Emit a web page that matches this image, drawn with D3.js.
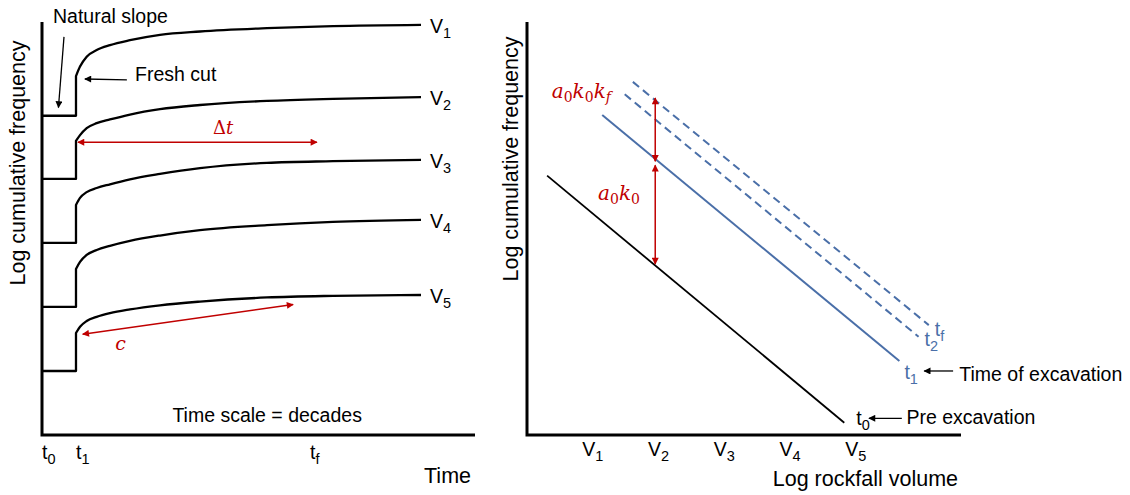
<!DOCTYPE html>
<html><head><meta charset="utf-8">
<script src="https://cdn.jsdelivr.net/npm/d3@7"></script>
<style>
body{margin:0;background:#fff}
text{font-family:"Liberation Sans",Arial,sans-serif;fill:#000}
</style>
</head><body>
<svg id="c" width="1130" height="495"></svg>
<script>
// ---------- DATA (left panel: time series per volume class) ----------
const volumeSubs = ["1","2","3","4","5"];
const cutTime = 7.85;              // t1 (time of fresh cut)
const timeTicks = [ {sub:"0", t:0}, {sub:"1", t:7.85}, {sub:"f", t:61.9} ];
const naturalLevel = [77.3, 62.0, 46.5, 31.0, 15.5];
const curveTimes = [7.85, 8.78, 10.32, 12.63, 15.70, 20.32, 27.25, 36.49, 51.96, 67.21, 87.53];
const curveV1 = [86.9, 89.2, 91.6, 93.2, 94.4, 95.6, 96.9, 97.7, 98.5, 99.0, 99.3];
const curveV2 = [71.2, 72.6, 74.3, 75.5, 76.4, 77.6, 78.9, 79.9, 80.9, 81.4, 81.8];
const curveV3 = [55.7, 57.4, 58.8, 59.8, 60.7, 61.9, 63.2, 64.6, 65.9, 66.3, 66.6];
const curveV4 = [40.2, 41.9, 43.6, 44.8, 45.8, 47.0, 48.3, 49.6, 50.8, 51.6, 52.1];
const curveV5 = [24.7, 26.2, 27.6, 28.6, 29.5, 30.4, 31.4, 32.3, 33.3, 33.7, 33.9];
const curves = [curveV1, curveV2, curveV3, curveV4, curveV5];

// ---------- DATA (right panel: magnitude-frequency lines) ----------
const volumeTicks = [1, 2, 3, 4, 5];
const mfNames = ["0", "1", "2", "f"];
const mfX0 = [0.306, 1.144, 1.486, 1.610];
const mfY0 = [62.8, 77.5, 82.5, 85.5];
const mfX1 = [4.825, 5.663, 5.955, 6.110];
const mfY1 = [2.98, 17.9, 23.8, 26.6];

const svg = d3.select("#c");
const RED = "#c00000", BLUE = "#4a6fa8";

// markers
const defs = svg.append("defs");
function marker(id, color, w, h) {
  defs.append("marker").attr("id", id).attr("viewBox", "0 0 10 10")
    .attr("refX", 9).attr("refY", 5).attr("markerUnits", "userSpaceOnUse")
    .attr("markerWidth", w).attr("markerHeight", h).attr("orient", "auto-start-reverse")
    .append("path").attr("d", "M0,0 L10,5 L0,10 z").attr("fill", color);
}
marker("ab", "#000", 9, 7);
marker("ar", RED, 9, 7);

function subLabel(g, x, y, main, sub, anchor, color) {
  const tx = g.append("text").attr("x", x).attr("y", y).attr("font-size", 19.5)
    .attr("text-anchor", anchor || "start");
  if (color) tx.style("fill", color);
  tx.append("tspan").text(main);
  tx.append("tspan").attr("font-size", 14.5).attr("dy", 5).text(sub);
  return tx;
}

// ---------- LEFT PANEL ----------
const xL = d3.scaleLinear().domain([0, 100]).range([42, 475]);
const yL = d3.scaleLinear().domain([0, 100]).range([435, 22]);
const gL = svg.append("g");

const lineLin = d3.line().x(d => xL(d[0])).y(d => yL(d[1]));
const lineCurve = d3.line().x(d => xL(d[0])).y(d => yL(d[1])).curve(d3.curveMonotoneX);

curves.forEach((cv, i) => {
  const step = [[0, naturalLevel[i]], [cutTime, naturalLevel[i]], [cutTime, cv[0]]];
  const pts = curveTimes.map((t, k) => [t, cv[k]]);
  const d = lineLin(step) + lineCurve(pts).replace(/^M/, "L");
  gL.append("path").attr("d", d).attr("fill", "none").attr("stroke", "#000")
    .attr("stroke-width", 2.3).attr("stroke-linejoin", "round");
  const ex = xL(curveTimes[curveTimes.length - 1]), ey = yL(cv[cv.length - 1]);
  subLabel(gL, ex + 9, ey + 8, "V", volumeSubs[i]);
});

// axes
gL.append("path")
  .attr("d", `M${xL(0)},${yL(100)} V${yL(0)} H${xL(100)}`)
  .attr("fill", "none").attr("stroke", "#000").attr("stroke-width", 3);

timeTicks.forEach(tk => subLabel(gL, xL(tk.t), 459, "t", tk.sub));
gL.append("text").attr("x", 471).attr("y", 483).attr("text-anchor", "end")
  .attr("font-size", 21.5).text("Time");
gL.append("text").attr("transform", "translate(25,163) rotate(-90)")
  .attr("text-anchor", "middle").attr("font-size", 21.5).text("Log cumulative frequency");
gL.append("text").attr("x", xL(52)).attr("y", 422).attr("text-anchor", "middle")
  .attr("font-size", 19.5).text("Time scale = decades");

// annotations
gL.append("text").attr("x", xL(2.54)).attr("y", yL(99.8)).attr("font-size", 19.5).text("Natural slope");
gL.append("line").attr("x1", xL(5.08)).attr("y1", yL(96.4)).attr("x2", xL(3.8)).attr("y2", yL(79.3))
  .attr("stroke", "#000").attr("stroke-width", 1.3).attr("marker-end", "url(#ab)");
gL.append("text").attr("x", xL(21.5)).attr("y", yL(85.6)).attr("font-size", 19.5).text("Fresh cut");
gL.append("line").attr("x1", xL(19.6)).attr("y1", yL(86.0)).attr("x2", xL(9.9)).attr("y2", yL(86.2))
  .attr("stroke", "#000").attr("stroke-width", 1.3).attr("marker-end", "url(#ab)");

// red: delta t
gL.append("line").attr("x1", xL(8.3)).attr("y1", yL(70.9)).attr("x2", xL(63.5)).attr("y2", yL(70.9))
  .attr("stroke", RED).attr("stroke-width", 1.5)
  .attr("marker-start", "url(#ar)").attr("marker-end", "url(#ar)");
const dt = gL.append("text").attr("x", xL(39.5)).attr("y", yL(72.8))
  .attr("font-size", 18).style("font-family", "'DejaVu Serif',serif").style("fill", RED);
dt.append("tspan").text("Δ");
dt.append("tspan").attr("font-style", "italic").text("t");
// red: c
gL.append("line").attr("x1", xL(9.4)).attr("y1", yL(24.4)).attr("x2", xL(58.0)).attr("y2", yL(31.6))
  .attr("stroke", RED).attr("stroke-width", 1.5)
  .attr("marker-start", "url(#ar)").attr("marker-end", "url(#ar)");
gL.append("text").attr("x", xL(16.9)).attr("y", yL(20.5)).attr("font-size", 19)
  .attr("font-style", "italic").style("font-family", "'DejaVu Serif',serif").style("fill", RED).text("c");

// ---------- RIGHT PANEL ----------
const xR = d3.scaleLinear().domain([0, 6.6]).range([527, 961]);
const yR = d3.scaleLinear().domain([0, 100]).range([435, 22]);
const gR = svg.append("g");

mfNames.forEach((nm, i) => {
  const col = i === 0 ? "#000" : BLUE;
  const x1 = xR(mfX1[i]), y1 = yR(mfY1[i]);
  gR.append("line").attr("x1", xR(mfX0[i])).attr("y1", yR(mfY0[i]))
    .attr("x2", x1).attr("y2", y1)
    .attr("stroke", col).attr("stroke-width", i === 0 ? 1.8 : 2)
    .attr("stroke-dasharray", i >= 2 ? "8,5" : null);
  const off = [[12, 2], [5, 18], [6, 9], [6, 11]][i];
  subLabel(gR, x1 + off[0], y1 + off[1], "t", nm, "start", col);
});

gR.append("path")
  .attr("d", `M${xR(0)},${yR(100)} V${yR(0)} H${xR(6.6)}`)
  .attr("fill", "none").attr("stroke", "#000").attr("stroke-width", 3);

volumeTicks.forEach((v, i) => subLabel(gR, xR(v), 456, "V", volumeSubs[i], "middle"));
gR.append("text").attr("x", 958).attr("y", 486).attr("text-anchor", "end")
  .attr("font-size", 21.5).text("Log rockfall volume");
gR.append("text").attr("transform", "translate(518,159) rotate(-90)")
  .attr("text-anchor", "middle").attr("font-size", 21.5).text("Log cumulative frequency");

// annotations right
gR.append("line").attr("x1", xR(6.48)).attr("y1", yR(15.5)).attr("x2", xR(6.04)).attr("y2", yR(15.5))
  .attr("stroke", "#000").attr("stroke-width", 1.3).attr("marker-end", "url(#ab)");
gR.append("text").attr("x", xR(6.575)).attr("y", yR(13.1)).attr("font-size", 19.5).text("Time of excavation");
gR.append("line").attr("x1", xR(5.70)).attr("y1", yR(4.04)).attr("x2", xR(5.20)).attr("y2", yR(4.04))
  .attr("stroke", "#000").attr("stroke-width", 1.3).attr("marker-end", "url(#ab)");
gR.append("text").attr("x", xR(5.77)).attr("y", yR(2.66)).attr("font-size", 19.5).text("Pre excavation");

// red vertical arrows
[[81.6, 66.3], [65.3, 41.4]].forEach(s => {
  gR.append("line").attr("x1", xR(1.95)).attr("y1", yR(s[0])).attr("x2", xR(1.95)).attr("y2", yR(s[1]))
    .attr("stroke", RED).attr("stroke-width", 1.5)
    .attr("marker-start", "url(#ar)").attr("marker-end", "url(#ar)");
});
function mathLabel(x, y, parts) {
  const t = gR.append("text").attr("x", x).attr("y", y).attr("font-size", 20)
    .style("font-family", "'DejaVu Serif',serif").style("fill", RED);
  parts.forEach(p => {
    const s = t.append("tspan").text(p.s);
    if (p.sub) s.attr("font-size", 14).attr("dy", 4); else s.attr("dy", p.up ? -4 : 0);
    if (p.it) s.attr("font-style", "italic");
  });
}
mathLabel(xR(0.376), yR(81.5), [{s:"a", it:1}, {s:"0", sub:1}, {s:"k", it:1, up:1}, {s:"0", sub:1}, {s:"k", it:1, up:1}, {s:"f", sub:1, it:1}]);
mathLabel(xR(1.08), yR(56.8), [{s:"a", it:1}, {s:"0", sub:1}, {s:"k", it:1, up:1}, {s:"0", sub:1}]);
</script>
</body></html>
